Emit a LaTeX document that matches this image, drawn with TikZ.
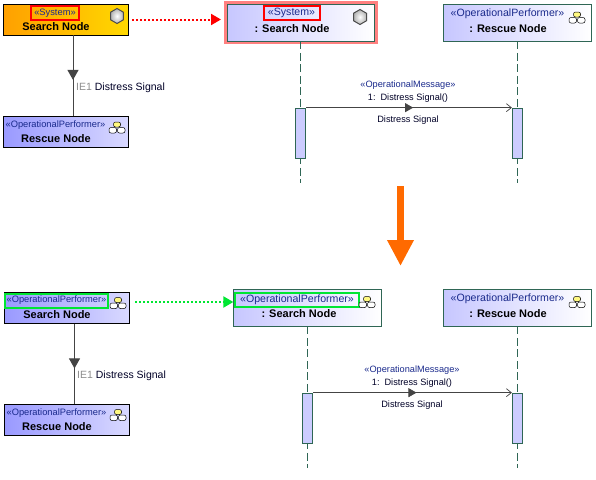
\documentclass[tikz,border=0pt]{standalone}
\usepackage{fontspec}
\setmainfont{Liberation Sans}
\usetikzlibrary{arrows.meta,positioning,decorations.markings,shapes.geometric}
\definecolor{sysblue}{HTML}{1A2A8C}
\definecolor{lifegreen}{HTML}{2F6655}
\definecolor{linegrey}{HTML}{444444}
\definecolor{chgorange}{HTML}{FF6A00}
\definecolor{markgreen}{HTML}{00E632}
\definecolor{sysleft}{HTML}{FFA000}
\definecolor{sysright}{HTML}{FFD800}
\tikzset{
  sysblock/.style={draw=black,line width=.9pt,minimum width=125pt,minimum height=31pt,inner sep=0pt,
    left color=sysleft,right color=sysright},
  perfblock/.style={draw=black,line width=.9pt,minimum width=125pt,minimum height=31pt,inner sep=0pt,
    left color=blue!40,right color=blue!15},
  lifebox/.style={draw=lifegreen,line width=.8pt,minimum width=147.5pt,minimum height=37pt,inner sep=0pt,
    left color=blue!22,right color=white},
  activation/.style={draw=lifegreen,line width=.7pt,fill=blue!20,minimum width=10.5pt,minimum height=50pt,inner sep=0pt},
  halo/.style={draw=red!50,line width=3pt,minimum width=151pt,minimum height=40pt,inner sep=0pt},
  stereo/.style={font=\fontsize{9.3}{10}\selectfont,text=sysblue,inner ysep=1pt,inner xsep=0pt},
  lifestereo/.style={stereo,font=\fontsize{10.6}{11}\selectfont},
  nodename/.style={font=\fontsize{11}{12}\selectfont\bfseries,inner sep=0pt,yshift=-.8pt},
  msgtext/.style={font=\fontsize{9.2}{10}\selectfont,inner sep=0pt,text=black!85!blue,yshift=-.8pt},
  ietext/.style={font=\fontsize{10.5}{12}\selectfont,anchor=west,inner sep=0pt,text=black!85!blue,yshift=-.8pt},
  lifeline/.style={draw=lifegreen,line width=.7pt,dash pattern=on 8pt off 3.5pt},
  flow/.style={draw=linegrey,line width=1pt,postaction={decorate},
    decoration={markings,mark=at position #1 with {\arrow{Triangle[length=10pt,width=11pt]}}}},
  message/.style={draw=linegrey,line width=.7pt,-{Straight Barb[length=5pt,width=8pt]},postaction={decorate},
    decoration={markings,mark=at position .52 with {\arrow{Triangle[length=8pt,width=9pt]}}}},
  tracelink/.style={line width=2pt,dash pattern=on 2pt off 2pt,-{Triangle[length=10pt,width=11pt]}},
  mark box/.style={draw=#1,line width=2pt,minimum height=14pt,inner xsep=0pt},
  pics/sysicon/.style={code={
    \node[regular polygon,regular polygon sides=6,shape border rotate=30,draw=black!70,line width=1pt,
      inner sep=0pt,minimum size=15pt,inner color=white,outer color=black!30] {};}},
  pics/perficon/.style={code={
    \draw[line width=.5pt,fill=yellow!50,rounded corners=2pt] (-3.5,-5.5) rectangle (3.5,-.5);
    \draw[line width=.5pt,fill=white,rounded corners=2pt] (-8,0) rectangle (-.5,5.5);
    \draw[line width=.5pt,fill=white,rounded corners=2pt] (.5,0) rectangle (8,5.5);}}
}
\begin{document}
\begin{tikzpicture}[x=1pt,y=-1pt,>=Stealth]
  \useasboundingbox (0,0) rectangle (596,479);
  % upper half
  \node[sysblock] (srcA) at (65.5,19.5) {};
  \node[perfblock] (dstA) at (65.5,131.5) {};
  \node[stereo,mark box=red,minimum width=48pt] (srcAst) at (55,13) {«System»};
  \node[nodename] (srcAnm) at (56,26) {Search Node};
  \node[stereo] (dstAst) at (55.5,124.7) {«OperationalPerformer»};
  \node[nodename] (dstAnm) at (56,138) {Rescue Node};
  \pic at (117,16) {sysicon};
  \pic at (117,127.5) {perficon};
  \draw[flow=.555] ([xshift=7.5pt]srcA.south) -- ([xshift=7.5pt]dstA.north);
  \node[ietext] (ieA) at (76,87) {\textcolor{black!45}{IE1} Distress Signal};

  \node[halo] (hlA) at (301,22.5) {};
  \node[lifebox] (lifeA) at (301,22.5) {};
  \node[lifebox] (lifeB) at (517.5,22.5) {};
  \node[lifestereo,mark box=red,minimum width=56pt] (lifeAst) at (291.5,13) {«System»};
  \node[nodename] (lifeAnm) at (292,28) {: Search Node};
  \node[lifestereo] (lifeBst) at (507.5,13.7) {«OperationalPerformer»};
  \node[nodename] (lifeBnm) at (508,28) {: Rescue Node};
  \pic at (360,17) {sysicon};
  \pic at (577,17.5) {perficon};
  \coordinate (endA) at (300.5,183);
  \coordinate (endB) at (517.5,183);
  \draw[lifeline] (lifeA.south -| endA) -- (endA);
  \draw[lifeline] (lifeB.south) -- (endB);
  \node[activation] (actA) at (300.5,133) {};
  \node[activation] (actB) at (517.5,133) {};
  \draw[message] (actA.north east) -- (actB.north west);
  \node[msgtext,text=sysblue] (msgA) at (408,84) {«OperationalMessage»};
  \node[msgtext] (callA) at (408,97) {1:\, Distress Signal()};
  \node[msgtext] (sigA) at (408,119) {Distress Signal};
  \draw[tracelink,red] ([xshift=4pt]srcA.east) -- ([xshift=-3pt]srcA.east -| hlA.west);

  % change arrow
  \coordinate (chgTop) at (400.5,186);
  \coordinate (chgEnd) at (400.5,266);
  \draw[line width=7pt,chgorange,-{Triangle[length=26pt,width=25pt]}] (chgTop) -- (chgEnd);

  % lower half
  \node[perfblock] (srcB) at (66.5,308) {};
  \node[perfblock] (dstB) at (66.5,420) {};
  \node[stereo,mark box=markgreen,minimum width=103pt] (srcBst) at (56.5,300.5) {«OperationalPerformer»};
  \node[nodename] (srcBnm) at (57,314) {Search Node};
  \node[stereo] (dstBst) at (56.5,412.7) {«OperationalPerformer»};
  \node[nodename] (dstBnm) at (57,426) {Rescue Node};
  \pic at (118,303) {perficon};
  \pic at (118,415) {perficon};
  \draw[flow=.555] ([xshift=8pt]srcB.south) -- ([xshift=8pt]dstB.north);
  \node[ietext] (ieB) at (77,375) {\textcolor{black!45}{IE1} Distress Signal};

  \node[lifebox] (lifeC) at (307.5,307.5) {};
  \node[lifebox] (lifeD) at (517.5,307.5) {};
  \node[lifestereo,mark box=markgreen,minimum width=124pt] (lifeCst) at (297,299.5) {«OperationalPerformer»};
  \node[nodename] (lifeCnm) at (299,313) {: Search Node};
  \node[lifestereo] (lifeDst) at (507.5,298.7) {«OperationalPerformer»};
  \node[nodename] (lifeDnm) at (508,313) {: Rescue Node};
  \pic at (367,302) {perficon};
  \pic at (577,302) {perficon};
  \coordinate (endC) at (307.5,468);
  \coordinate (endD) at (517.5,468);
  \draw[lifeline] (lifeC.south) -- (endC);
  \draw[lifeline] (lifeD.south) -- (endD);
  \node[activation] (actC) at (307.5,418) {};
  \node[activation] (actD) at (517.5,418) {};
  \draw[message] (actC.north east) -- (actD.north west);
  \node[msgtext,text=sysblue] (msgB) at (412,369) {«OperationalMessage»};
  \node[msgtext] (callB) at (412,382) {1:\, Distress Signal()};
  \node[msgtext] (sigB) at (412,404) {Distress Signal};
  \draw[tracelink,markgreen] ([xshift=6pt,yshift=6pt]srcB.east) -- ([yshift=6pt]srcB.east -| lifeC.west);
\end{tikzpicture}
\end{document}
